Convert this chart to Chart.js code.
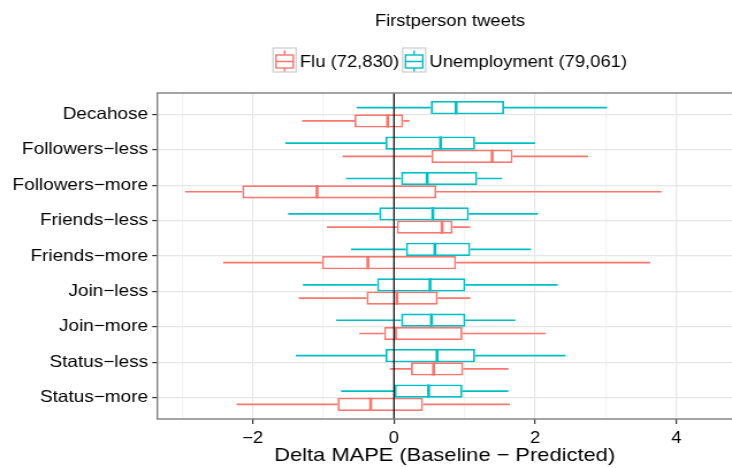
<!DOCTYPE html>
<html>
<head>
<meta charset="utf-8">
<script src="https://cdn.jsdelivr.net/npm/chart.js@4/dist/chart.umd.min.js"></script>
<style>
  body { margin: 0; background: #fff; }
</style>
</head>
<body>
<!-- the reference is a slightly wide-stretched image, so the canvas is drawn narrower and stretched -->
<canvas id="boxChart" width="636" height="468" style="width:732px;height:468px;display:block"></canvas>
<script>
const categories = ['Decahose', 'Followers\u2212less', 'Followers\u2212more', 'Friends\u2212less', 'Friends\u2212more',
                    'Join\u2212less', 'Join\u2212more', 'Status\u2212less', 'Status\u2212more'];

// Flu (72,830)
const fluMin = [-1.30, -0.73, -2.96, -0.95, -2.42, -1.35, -0.49, -0.06, -2.23];
const fluQ1  = [-0.56,  0.53, -2.15,  0.04, -1.02, -0.39, -0.14,  0.24, -0.80];
const fluMed = [-0.09,  1.39, -1.09,  0.68, -0.37,  0.04,  0.02,  0.56, -0.33];
const fluQ3  = [ 0.13,  1.68,  0.60,  0.83,  0.88,  0.62,  0.97,  0.98,  0.41];
const fluMax = [ 0.22,  2.75,  3.79,  1.08,  3.63,  1.08,  2.15,  1.62,  1.64];

// Unemployment (79,061)
const unempMin = [-0.53, -1.54, -0.68, -1.50, -0.61, -1.29, -0.82, -1.39, -0.75];
const unempQ1  = [ 0.52, -0.12,  0.10, -0.21,  0.17, -0.24,  0.10, -0.12,  0.00];
const unempMed = [ 0.88,  0.66,  0.47,  0.55,  0.58,  0.51,  0.53,  0.61,  0.49];
const unempQ3  = [ 1.56,  1.15,  1.18,  1.06,  1.08,  1.01,  1.01,  1.15,  0.97];
const unempMax = [ 3.02,  2.00,  1.53,  2.04,  1.94,  2.32,  1.72,  2.43,  1.62];

const xTicks = [-2, 0, 2, 4];
const legendTitle = 'Firstperson tweets';

const FONT = "'Liberation Sans', Arial, Helvetica, sans-serif";
const RED = '#F8766D';
const CYAN = '#00BFC4';

// dataset 0 sits on top inside each category, like the reference
const series = [
    { label: 'Unemployment (79,061)', color: CYAN, min: unempMin, q1: unempQ1, med: unempMed, q3: unempQ3, max: unempMax },
    { label: 'Flu (72,830)', color: RED, min: fluMin, q1: fluQ1, med: fluMed, q3: fluQ3, max: fluMax }
];

const fmt = v => (v < 0 ? '\u2212' + Math.abs(v) : String(v));

const boxParts = {
    id: 'boxParts',
    beforeDatasetsDraw(chart) {
        const { ctx, chartArea, scales: { x } } = chart;
        ctx.save();
        ctx.beginPath();
        ctx.rect(chartArea.left, chartArea.top, chartArea.width, chartArea.height);
        ctx.clip();
        ctx.lineWidth = 1.7;
        series.forEach((s, d) => {
            chart.getDatasetMeta(d).data.forEach((bar, i) => {
                ctx.strokeStyle = s.color;
                ctx.beginPath();
                ctx.moveTo(x.getPixelForValue(s.min[i]), bar.y);
                ctx.lineTo(x.getPixelForValue(s.q1[i]), bar.y);
                ctx.moveTo(x.getPixelForValue(s.q3[i]), bar.y);
                ctx.lineTo(x.getPixelForValue(s.max[i]), bar.y);
                ctx.stroke();
            });
        });
        ctx.restore();
    },
    afterDatasetsDraw(chart) {
        const { ctx, chartArea, scales: { x } } = chart;
        ctx.save();
        ctx.lineWidth = 2.6;
        series.forEach((s, d) => {
            chart.getDatasetMeta(d).data.forEach((bar, i) => {
                const px = x.getPixelForValue(s.med[i]);
                ctx.strokeStyle = s.color;
                ctx.beginPath();
                ctx.moveTo(px, bar.y - bar.height / 2);
                ctx.lineTo(px, bar.y + bar.height / 2);
                ctx.stroke();
            });
        });
        // zero line
        const zx = x.getPixelForValue(0);
        ctx.strokeStyle = '#000';
        ctx.lineWidth = 1.2;
        ctx.beginPath();
        ctx.moveTo(zx, chartArea.top);
        ctx.lineTo(zx, chartArea.bottom);
        ctx.stroke();
        // panel border
        ctx.strokeStyle = '#7f7f7f';
        ctx.lineWidth = 1.4;
        ctx.strokeRect(chartArea.left, chartArea.top, chartArea.width + 2, chartArea.height);
        ctx.restore();
    },
    afterDraw(chart) {
        const { ctx } = chart;
        const cx = 391;
        ctx.save();
        ctx.fillStyle = '#000';
        ctx.font = '16px ' + FONT;
        ctx.textAlign = 'center';
        ctx.textBaseline = 'alphabetic';
        ctx.fillText(legendTitle, cx, 26);

        const items = series.slice().reverse();
        const keyW = 20, gapKey = 3.3, gapItem = 3;
        const widths = items.map(s => ctx.measureText(s.label).width);
        const total = items.length * (keyW + gapKey) + widths.reduce((a, b) => a + b, 0) + gapItem;
        let px = cx - total / 2;
        ctx.textAlign = 'left';
        items.forEach((s, k) => {
            // key
            ctx.fillStyle = '#fff';
            ctx.fillRect(px, 48, keyW, 24);
            ctx.strokeStyle = '#cccccc';
            ctx.lineWidth = 1.2;
            ctx.strokeRect(px, 48, keyW, 24);
            ctx.strokeStyle = s.color;
            ctx.lineWidth = 1.4;
            ctx.strokeRect(px + 2.5, 55, keyW - 5, 13);
            ctx.beginPath();
            ctx.moveTo(px + 2.5, 61.5);
            ctx.lineTo(px + keyW - 2.5, 61.5);
            ctx.moveTo(px + keyW / 2, 50.5);
            ctx.lineTo(px + keyW / 2, 55);
            ctx.moveTo(px + keyW / 2, 68);
            ctx.lineTo(px + keyW / 2, 71.5);
            ctx.stroke();
            px += keyW + gapKey;
            ctx.fillStyle = '#000';
            ctx.fillText(s.label, px, 67);
            px += widths[k] + gapItem;
        });
        ctx.restore();
    }
};

const ctx = document.getElementById('boxChart').getContext('2d');
const chart = new Chart(ctx, {
    type: 'bar',
    data: {
        datasets: series.map(s => ({
            label: s.label,
            data: categories.map((c, i) => ({ y: i + 1, x: [s.q1[i], s.q3[i]] })),
            borderColor: s.color,
            backgroundColor: '#ffffff',
            borderWidth: 1.8,
            borderSkipped: false,
            categoryPercentage: 0.75,
            barPercentage: 1
        }))
    },
    options: {
        indexAxis: 'y',
        responsive: false,
        animation: false,
        devicePixelRatio: 1,
        layout: { padding: { top: 93, left: 0, right: 0, bottom: 0 } },
        plugins: {
            legend: { display: false },
            tooltip: { enabled: false }
        },
        scales: {
            x: {
                type: 'linear',
                position: 'bottom',
                min: -3.352,
                max: 4.788,
                afterFit: s => { s.height = 49; },
                border: { display: false },
                grid: {
                    color: c => (xTicks.includes(c.tick.value) ? '#e6e6e6' : '#f3f3f3'),
                    lineWidth: 1.2,
                    tickLength: 5,
                    tickColor: c => (xTicks.includes(c.tick.value) ? '#333' : 'rgba(0,0,0,0)')
                },
                ticks: {
                    stepSize: 1,
                    includeBounds: false,
                    autoSkip: false,
                    maxRotation: 0,
                    padding: 5,
                    color: '#000',
                    font: { family: FONT, size: 16 },
                    callback: v => (xTicks.includes(v) ? fmt(v) : '')
                },
                title: {
                    display: true,
                    text: 'Delta MAPE (Baseline \u2212 Predicted)',
                    color: '#000',
                    font: { family: FONT, size: 19 },
                    padding: { top: 0, bottom: 1 }
                }
            },
            y: {
                type: 'linear',
                reverse: true,
                offset: false,
                min: 0.4,
                max: 9.6,
                afterFit: s => { s.width = 136.7; },
                afterBuildTicks: s => { s.ticks = categories.map((c, i) => ({ value: i + 1 })); },
                border: { display: false },
                grid: {
                    offset: false,
                    color: '#e6e6e6',
                    lineWidth: 1.2,
                    tickLength: 4.5,
                    tickColor: '#333'
                },
                ticks: {
                    autoSkip: false,
                    padding: 3.5,
                    color: '#000',
                    font: { family: FONT, size: 16.5 },
                    callback: v => categories[v - 1]
                }
            }
        }
    },
    plugins: [boxParts]
});
</script>
</body>
</html>
